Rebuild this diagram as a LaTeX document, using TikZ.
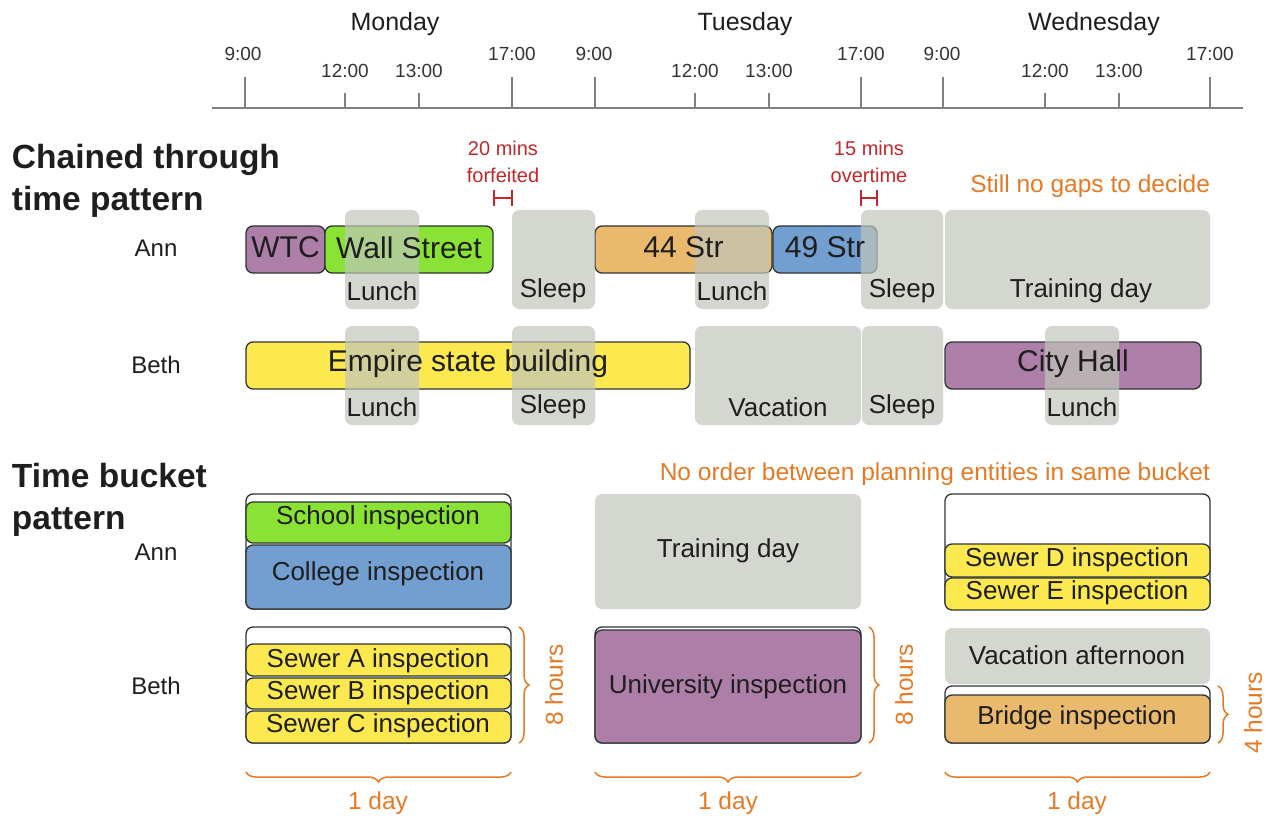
\documentclass[tikz,border=0pt]{standalone}
\usepackage{fontspec}
\setmainfont{Liberation Sans}
\usetikzlibrary{decorations.pathreplacing}
\definecolor{cpurple}{HTML}{AD7FA8}
\definecolor{cgreen}{HTML}{8AE234}
\definecolor{corange}{HTML}{E9B96E}
\definecolor{cblue}{HTML}{729FCF}
\definecolor{cyellow}{HTML}{FCE94F}
\definecolor{cgray}{HTML}{D3D7CF}
\definecolor{cgapov}{RGB}{192,198,186}
\definecolor{cborder}{HTML}{2E3436}
\definecolor{cnote}{RGB}{228,122,38}
\definecolor{cred}{RGB}{192,40,45}
\definecolor{caxis}{RGB}{128,128,128}
\definecolor{ctext}{RGB}{30,30,30}
\newcommand\fs[1]{\fontsize{#1}{#1}\selectfont}
\newcommand\rbox[6]{\node[#2, minimum width={#5-#3}, minimum height={#6-#4}] (#1) at ({(#3+#5)/2},{(#4+#6)/2}) {};}
\begin{document}
\begin{tikzpicture}[x=1pt,y=-1pt,
  every node/.style={inner sep=0pt, outer sep=0pt, text=ctext},
  ent/.style={draw=cborder, line width=1.3pt, rounded corners=7pt, rectangle},
  gapov/.style={fill=cgapov, fill opacity=0.7, draw=none, rounded corners=7pt, rectangle},
  gapsolid/.style={fill=cgray, draw=none, rounded corners=7pt, rectangle},
  big/.style={font=\fs{30}},
  lbl/.style={font=\fs{26}},
  who/.style={font=\fs{24}},
  tm/.style={font=\fs{19}, text=black!80},
  day/.style={font=\fs{25}},
  ttl/.style={font=\bfseries\fontsize{33.5}{42}\selectfont, align=left, anchor=west},
  note/.style={font=\fs{24.5}, text=cnote},
  rednote/.style={font=\fontsize{20}{27}\selectfont, text=cred, align=center},
  tick/.style={draw=caxis, line width=2.2pt},
  brc/.style={draw=cnote, line width=1.5pt, decorate, decoration={brace, amplitude=10pt}},
  redm/.style={draw=cred, line width=1.5pt}
]
\useasboundingbox (0,0) rectangle (1268,818);

% ---------- axis ----------
\draw[tick, line width=2.5pt] (212,108) -- (1243,108);
\foreach \x in {245,512,595,861,943,1210} \draw[tick] (\x,77) -- (\x,108);
\foreach \x in {345,419,695,769,1045,1119} \draw[tick] (\x,93) -- (\x,108);
\node[tm] (t1) at (243,54) {9:00};
\node[tm] (t2) at (345,71) {12:00};
\node[tm] (t3) at (419,71) {13:00};
\node[tm] (t4) at (512,54) {17:00};
\node[tm] (t5) at (594,54) {9:00};
\node[tm] (t6) at (695,71) {12:00};
\node[tm] (t7) at (769,71) {13:00};
\node[tm] (t8) at (861,54) {17:00};
\node[tm] (t9) at (942,54) {9:00};
\node[tm] (t10) at (1045,71) {12:00};
\node[tm] (t11) at (1119,71) {13:00};
\node[tm] (t12) at (1210,54) {17:00};
\node[day] (mon) at (395,24) {Monday};
\node[day] (tue) at (745,24) {Tuesday};
\node[day] (wed) at (1094,24) {Wednesday};

% ---------- chained through time ----------
\node[ttl] (title1) at (12,181) {Chained through\\time pattern};
\node[who] (ann1) at (156,248) {Ann};
\node[who] (beth1) at (156,365) {Beth};

\rbox{wtc}{ent,fill=cpurple}{246}{226}{325}{273}
\rbox{wall}{ent,fill=cgreen}{325}{226}{493}{273}
\rbox{s44}{ent,fill=corange}{595}{226}{772}{273}
\rbox{s49}{ent,fill=cblue}{773}{226}{877}{273}
\rbox{esb}{ent,fill=cyellow}{246}{342}{690}{389}
\rbox{ch}{ent,fill=cpurple}{945}{342}{1201}{389}

\rbox{aL1}{gapov}{345}{210}{419}{309}
\rbox{aS1}{gapov}{512}{210}{595}{309}
\rbox{aL2}{gapov}{695}{210}{769}{309}
\rbox{aS2}{gapov}{861}{210}{943}{309}
\rbox{aT}{gapov}{945}{210}{1210}{309}
\rbox{bL1}{gapov}{345}{326}{419}{425}
\rbox{bS1}{gapov}{512}{326}{595}{425}
\rbox{bV}{gapov}{695}{326}{861}{425}
\rbox{bS2}{gapov}{862}{326}{943}{425}
\rbox{bL2}{gapov}{1045}{326}{1119}{425}

\node[big] (twtc) at ([yshift=2]wtc.center) {WTC};
\node[big] (twall) at ([yshift=2]wall.center) {Wall Street};
\node[big] (t44) at ([yshift=2]s44.center) {44 Str};
\node[big] (t49) at ([yshift=2]s49.center) {49 Str};
\node[big] (tesb) at ([yshift=2]esb.center) {Empire state building};
\node[big] (tch) at ([yshift=2]ch.center) {City Hall};

\node[lbl] (laL1) at (382,291) {Lunch};
\node[lbl] (laS1) at (553,291) {Sleep};
\node[lbl] (laL2) at (732,291) {Lunch};
\node[lbl] (laS2) at (902,291) {Sleep};
\node[lbl] (laT) at (1081,291) {Training day};
\node[lbl] (lbL1) at (382,407) {Lunch};
\node[lbl] (lbS1) at (553,407) {Sleep};
\node[lbl] (lbV) at (778,407) {Vacation};
\node[lbl] (lbS2) at (902,407) {Sleep};
\node[lbl] (lbL2) at (1082,407) {Lunch};

\node[rednote] (r1) at (503,162) {20 mins\\forfeited};
\node[rednote] (r2) at (869,162) {15 mins\\overtime};
\draw[redm] (494,190) -- (494,206) (494,198) -- (512,198) (512,190) -- (512,206);
\draw[redm] (861,190) -- (861,206) (861,198) -- (877,198) (877,190) -- (877,206);
\node[note, anchor=east] (n1) at (1210,186) {Still no gaps to decide};

% ---------- time bucket ----------
\node[ttl] (title2) at (12,500) {Time bucket\\pattern};
\node[who] (ann2) at (156,552) {Ann};
\node[who] (beth2) at (156,686) {Beth};
\node[note, anchor=east] (n2) at (1210,474) {No order between planning entities in same bucket};

\rbox{ma}{ent,fill=white}{246}{494}{511}{609}
\rbox{school}{ent,fill=cgreen}{246}{502}{511}{543}
\rbox{college}{ent,fill=cblue}{246}{545}{511}{609}
\rbox{ta}{gapsolid}{595}{494}{861}{609}
\rbox{wa}{ent,fill=white}{945}{494}{1210}{609}
\rbox{sd}{ent,fill=cyellow}{945}{544}{1210}{577}
\rbox{se}{ent,fill=cyellow}{945}{578}{1210}{610}
\rbox{mb}{ent,fill=white}{246}{627}{511}{743}
\rbox{sa}{ent,fill=cyellow}{246}{644}{511}{676}
\rbox{sb}{ent,fill=cyellow}{246}{678}{511}{709}
\rbox{sc}{ent,fill=cyellow}{246}{711}{511}{743}
\rbox{tb}{ent,fill=white}{595}{627}{861}{743}
\rbox{uni}{ent,fill=cpurple}{595}{630}{861}{743}
\rbox{va}{gapsolid}{945}{628}{1210}{684}
\rbox{wb}{ent,fill=white}{945}{686}{1210}{743}
\rbox{br}{ent,fill=corange}{945}{695}{1210}{743}

\node[lbl] (tschool) at (378,518) {School inspection};
\node[lbl] (tcollege) at (378,574) {College inspection};
\node[lbl] (tta) at (728,551) {Training day};
\node[lbl] (tsd) at (1077,560) {Sewer D inspection};
\node[lbl] (tse) at (1077,593) {Sewer E inspection};
\node[lbl] (tsa) at (378,661) {Sewer A inspection};
\node[lbl] (tsb) at (378,693) {Sewer B inspection};
\node[lbl] (tsc) at (378,726) {Sewer C inspection};
\node[lbl] (tuni) at (728,687) {University inspection};
\node[lbl] (tva) at (1077,655) {Vacation afternoon};
\node[lbl] (tbr) at (1077,718) {Bridge inspection};

% braces
\draw[brc] (519,627) -- (519,743);
\draw[brc] (869,627) -- (869,743);
\draw[brc] (1218,686) -- (1218,743);
\node[note, rotate=90] (h1) at (554,685) {8 hours};
\node[note, rotate=90] (h2) at (904,685) {8 hours};
\node[note, rotate=90] (h3) at (1253,713) {4 hours};

\draw[brc] (511,772) -- (246,772);
\draw[brc] (861,772) -- (595,772);
\draw[brc] (1210,772) -- (945,772);
\node[note] (d1) at (378,803) {1 day};
\node[note] (d2) at (728,803) {1 day};
\node[note] (d3) at (1077,803) {1 day};
\end{tikzpicture}
\end{document}
